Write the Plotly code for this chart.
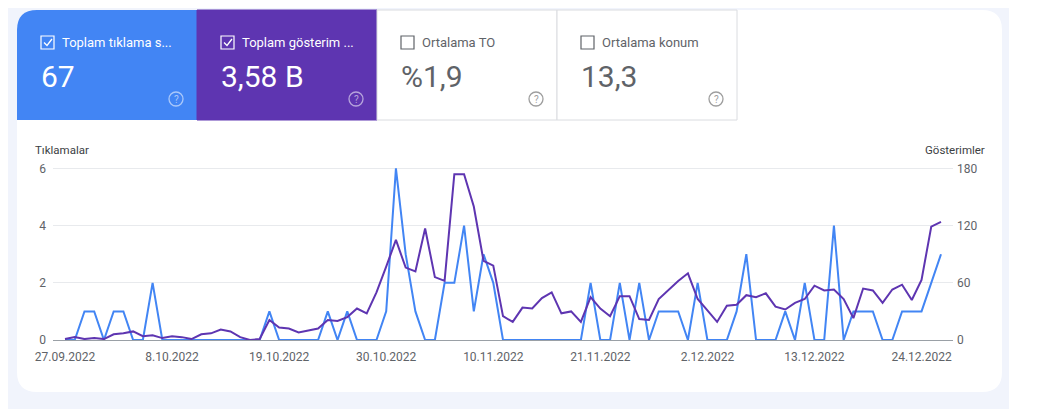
import plotly.graph_objects as go
import pandas as pd

dates = pd.date_range("2022-09-27", periods=91, freq="D")
clicks = [0,0,1,1,0,1,1,0,0,2, 0,0,0,0,0,0,0,0,0,0, 0,1,0,0,0,0,0,1,0,1,
          0,0,0,1,6,3,1,0,0,2, 2,4,1,3,2,0,0,0,0,0, 0,0,0,0,2,0,0,2,0,2,
          0,1,1,1,0,2,0,0,0,1, 3,0,0,0,1,0,2,0,0,4, 0,1,1,1,0,0,1,1,1,2, 3]
impressions = [1,3,1,2,1,6,7,9,4,5, 2,4,3,1,6,7,11,9,3,0, 1,21,13,12,8,10,12,21,20,24,
               33,28,50,77,105,76,72,117,66,62, 174,174,140,83,78,25,19,34,33,44,
               50,28,30,19,45,33,25,46,46,22, 21,43,53,62,70,43,31,19,36,37,
               47,45,49,35,32,39,43,57,52,53, 43,23,54,52,39,53,58,42,63,119, 124]
tick_dates = ["2022-09-27","2022-10-08","2022-10-19","2022-10-30","2022-11-10",
              "2022-11-21","2022-12-02","2022-12-13","2022-12-24"]
tick_text = ["27.09.2022","8.10.2022","19.10.2022","30.10.2022","10.11.2022",
             "21.11.2022","2.12.2022","13.12.2022","24.12.2022"]
cards = [("Toplam tıklama s...", "67", True, "#4285f4"),
         ("Toplam gösterim ...", "3,58 B", True, "#5e35b1"),
         ("Ortalama TO", "%1,9", False, "#ffffff"),
         ("Ortalama konum", "13,3", False, "#ffffff")]

OFF = 8  # page body margin
W, H = 1057 - OFF, 409 - OFF
L, R, T, B = 53, 953, 167, 340   # in reference window pixels
def px(x): return (x - L) / (R - L)
def py(y): return (B - y) / (B - T)
pad = pd.Timedelta(hours=29.6)

fig = go.Figure()
fig.add_trace(go.Scatter(x=dates, y=impressions, yaxis="y2", mode="lines",
                         line=dict(color="#5e35b1", width=2), name="Gösterimler"))
fig.add_trace(go.Scatter(x=dates, y=clicks, mode="lines",
                         line=dict(color="#4285f4", width=2), name="Tıklamalar"))

shapes = []
shapes.append(dict(type="rect", xref="paper", yref="paper", x0=px(1009), x1=px(1070),
                   y0=py(-20), y1=py(420), fillcolor="#ffffff", line_width=0, layer="below"))
x0, x1, y0, y1, r = px(17), px(1002), py(10), py(392), 20
rx, ry = r / (R - L), r / (B - T)
path = (f"M {x0+rx},{y0} L {x1-rx},{y0} Q {x1},{y0} {x1},{y0-ry} L {x1},{y1+ry} "
        f"Q {x1},{y1} {x1-rx},{y1} L {x0+rx},{y1} Q {x0},{y1} {x0},{y1+ry} "
        f"L {x0},{y0-ry} Q {x0},{y0} {x0+rx},{y0} Z")
shapes.append(dict(type="path", xref="paper", yref="paper", path=path,
                   fillcolor="#ffffff", line_width=0, layer="below"))
annotations = []
for i, (title, val, checked, col) in enumerate(cards):
    cx0, cx1 = 17 + 180 * i, 197 + 180 * i
    if i == 0:
        a, b_, c, d = px(cx0), px(cx1), py(10), py(120)
        p = (f"M {a},{d} L {a},{c - ry} Q {a},{c} {a+rx},{c} L {b_},{c} L {b_},{d} Z")
        shapes.append(dict(type="path", xref="paper", yref="paper", path=p,
                           fillcolor=col, line_width=0, layer="below"))
    else:
        shapes.append(dict(type="rect", xref="paper", yref="paper", x0=px(cx0), x1=px(cx1),
                           y0=py(120), y1=py(10), fillcolor=col, layer="below",
                           line=dict(color="#dadce0" if col == "#ffffff" else col, width=1)))
    fg = "#ffffff" if checked else "#5f6368"
    shapes.append(dict(type="rect", xref="paper", yref="paper", x0=px(cx0 + 24), x1=px(cx0 + 37),
                       y0=py(49), y1=py(36), line=dict(color=fg, width=1.2),
                       fillcolor="rgba(0,0,0,0)"))
    if checked:
        shapes.append(dict(type="path", xref="paper", yref="paper",
                           path=f"M {px(cx0+27)},{py(42.5)} L {px(cx0+30)},{py(45.5)} L {px(cx0+35)},{py(39)}",
                           line=dict(color=fg, width=1.3)))
    annotations.append(dict(xref="paper", yref="paper", x=px(cx0 + 43), y=py(42), text=title,
                            showarrow=False, xanchor="left", yanchor="middle",
                            font=dict(size=13, color=fg, family="Roboto")))
    annotations.append(dict(xref="paper", yref="paper", x=px(cx0 + 22), y=py(77), text=val,
                            showarrow=False, xanchor="left", yanchor="middle",
                            font=dict(size=30, color=fg if checked else "#5f6368", family="Roboto")))
    qc = "rgba(255,255,255,0.55)" if checked else "#9e9e9e"
    shapes.append(dict(type="circle", xref="paper", yref="paper", x0=px(cx0 + 152), x1=px(cx0 + 166),
                       y0=py(106), y1=py(92), line=dict(color=qc, width=1.3)))
    annotations.append(dict(xref="paper", yref="paper", x=px(cx0 + 159), y=py(99), text="?",
                            showarrow=False, xanchor="center", yanchor="middle",
                            font=dict(size=10, color=qc, family="Roboto")))

annotations.append(dict(xref="paper", yref="paper", x=px(33), y=py(150), text="Tıklamalar",
                        showarrow=False, xanchor="left", yanchor="middle",
                        font=dict(size=11.5, color="#3c4043", family="Roboto")))
annotations.append(dict(xref="paper", yref="paper", x=px(987), y=py(150), text="Gösterimler",
                        showarrow=False, xanchor="right", yanchor="middle",
                        font=dict(size=11.5, color="#3c4043", family="Roboto")))

fig.update_layout(
    width=W, height=H, margin=dict(l=L - OFF, r=1057 - R, t=T - OFF, b=409 - B),
    paper_bgcolor="#f1f4fc", plot_bgcolor="rgba(0,0,0,0)", showlegend=False,
    font=dict(family="Roboto", color="#5f6368", size=12),
    xaxis=dict(range=[dates[0] - pad, dates[-1] + pad],
               tickvals=tick_dates, ticktext=tick_text, showgrid=False, zeroline=False,
               showline=True, linecolor="#9aa0a6", ticks="", ticklabelstandoff=6,
               tickfont=dict(size=12, color="#5f6368")),
    yaxis=dict(range=[0, 6.05], tickvals=[0, 2, 4, 6], gridcolor="#e8eaed", zeroline=False,
               showline=False, ticks="", ticklabelstandoff=6, tickfont=dict(size=12, color="#5f6368")),
    yaxis2=dict(range=[0, 181.5], tickvals=[0, 60, 120, 180], overlaying="y", side="right",
                showgrid=False, zeroline=False, ticks="", ticklabelstandoff=3,
                tickfont=dict(size=12, color="#5f6368")),
    shapes=shapes, annotations=annotations,
)
fig.write_html("out.html")
